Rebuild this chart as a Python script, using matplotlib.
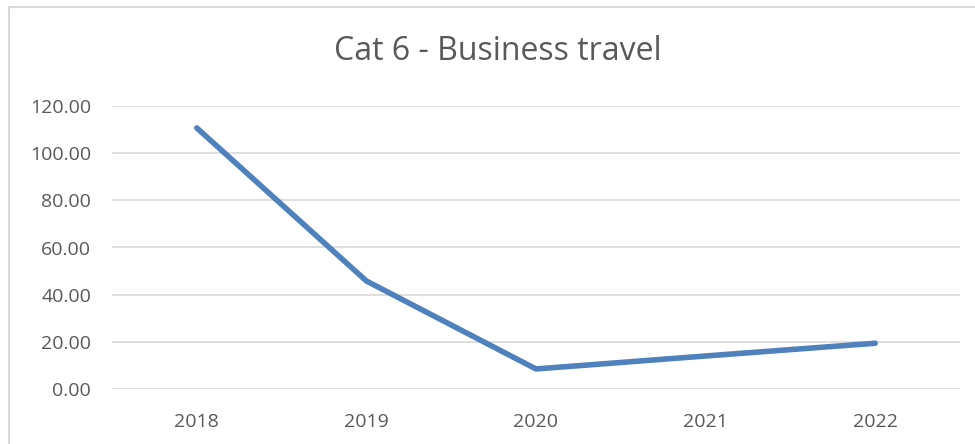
import matplotlib
matplotlib.use('Agg')
import matplotlib.pyplot as plt
from matplotlib.lines import Line2D

years = ['2018', '2019', '2020', '2021', '2022']
emissions = [110.7, 45.8, 8.5, 14.0, 19.4]
yticks = [0, 20, 40, 60, 80, 100, 120]

plt.rcParams['font.family'] = ['Open Sans', 'DejaVu Sans']

fig = plt.figure(figsize=(9.75, 4.44), dpi=100)
ax = fig.add_axes([112 / 975, 1 - 389 / 444, (960 - 112) / 975, (389 - 106) / 444])

x = list(range(len(years)))
ax.plot(x, emissions, color='#4f81bd', linewidth=4, solid_capstyle='round', solid_joinstyle='round')

ax.set_xlim(-0.5, len(years) - 0.5)
ax.set_ylim(0, 120)
ax.set_yticks(yticks)
ax.set_yticklabels(['%.2f' % v for v in yticks])
ax.set_xticks(x)
ax.set_xticklabels(years)
ax.grid(axis='y', color='#d9d9d9', linewidth=1.2)
ax.set_axisbelow(True)
for s in ax.spines.values():
    s.set_visible(False)
ax.tick_params(length=0, labelsize=14, colors='#595959')
ax.tick_params(axis='y', pad=15)
ax.tick_params(axis='x', pad=17)

fig.text(498 / 975, 1 - 52 / 444, 'Cat 6 - Business travel', ha='center', va='center',
         fontsize=23, color='#595959')

# chart border
fig.add_artist(Line2D([9 / 975, 1], [1 - 7 / 444, 1 - 7 / 444], color='#d9d9d9', linewidth=1.5))
fig.add_artist(Line2D([9 / 975, 9 / 975], [0, 1 - 7 / 444], color='#d9d9d9', linewidth=1.5))

fig.savefig('out.png', dpi=100)
